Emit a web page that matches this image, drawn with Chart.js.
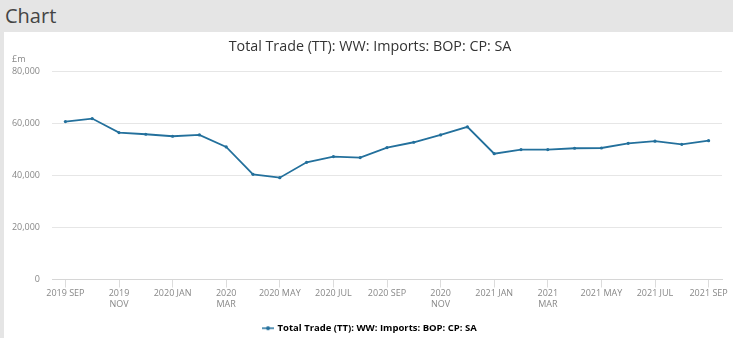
<!DOCTYPE html>
<html>
<head>
<meta charset="utf-8">
<script src="https://cdn.jsdelivr.net/npm/chart.js@4/dist/chart.umd.min.js"></script>
<style>
    body { margin: 0; width: 733px; height: 338px; overflow: hidden; background: #e5e5e5; font-family: "Open Sans", sans-serif; }
    #heading { position: absolute; left: 5px; top: 2px; font-size: 20px; color: #444; }
    #panel { position: absolute; left: 4px; top: 32px; width: 735px; height: 312px; background: #fff; }
    #unit { position: absolute; left: 8px; top: 20px; font-size: 9px; color: #888; }
</style>
</head>
<body>
<div id="heading">Chart</div>
<div id="panel">
    <span id="unit">£m</span>
    <canvas id="trade_chart" width="732" height="312"></canvas>
</div>
<script>
"use strict";

// monthly imports, £m
const months = [
    '2019 SEP', '2019 OCT', '2019 NOV', '2019 DEC',
    '2020 JAN', '2020 FEB', '2020 MAR', '2020 APR', '2020 MAY', '2020 JUN',
    '2020 JUL', '2020 AUG', '2020 SEP', '2020 OCT', '2020 NOV', '2020 DEC',
    '2021 JAN', '2021 FEB', '2021 MAR', '2021 APR', '2021 MAY', '2021 JUN',
    '2021 JUL', '2021 AUG', '2021 SEP'
];
const imports = [
    60650, 61800, 56400, 55770,
    55000, 55500, 50900, 40400, 39100, 45000,
    47200, 46800, 50650, 52700, 55500, 58600,
    48300, 49900, 49900, 50400, 50500, 52300,
    53100, 51900, 53300
];
// axis labels, every second month (some wrap onto two lines)
const tickLabels = [
    '2019 SEP', '', ['2019', 'NOV'], '',
    '2020 JAN', '', ['2020', 'MAR'], '', '2020 MAY', '',
    '2020 JUL', '', '2020 SEP', '', ['2020', 'NOV'], '',
    '2021 JAN', '', ['2021', 'MAR'], '', '2021 MAY', '',
    '2021 JUL', '', '2021 SEP'
];
const yTicks = [0, 20000, 40000, 60000, 80000];

const seriesName = 'Total Trade (TT): WW: Imports: BOP: CP: SA';
const lineColor = '#23709c';

// legend marker: short line with a dot
const marker = document.createElement('canvas');
marker.width = 12;
marker.height = 6;
const mctx = marker.getContext('2d');
mctx.strokeStyle = lineColor;
mctx.lineWidth = 1.5;
mctx.beginPath();
mctx.moveTo(0, 3);
mctx.lineTo(12, 3);
mctx.stroke();
mctx.fillStyle = lineColor;
mctx.beginPath();
mctx.arc(6, 3, 2, 0, Math.PI * 2);
mctx.fill();

const ctx = document.getElementById('trade_chart');

new Chart(ctx, {
    type: 'line',
    data: {
        labels: months,
        datasets: [{
            label: seriesName,
            data: imports,
            borderColor: lineColor,
            backgroundColor: lineColor,
            borderWidth: 1.8,
            pointRadius: 1.6,
            pointBorderWidth: 0,
            pointHoverRadius: 3,
            tension: 0,
        }]
    },
    options: {
        responsive: false,
        animation: false,
        layout: {
            padding: { left: 0, right: 0, top: 0, bottom: 1 }
        },
        scales: {
            x: {
                offset: true,
                grid: {
                    drawOnChartArea: false,
                    offset: false,
                    tickLength: 8,
                    color: (c) => (c.index % 2 === 0 ? '#dcdcdc' : 'rgba(0,0,0,0)'),
                },
                border: { color: '#d6d6d6' },
                ticks: {
                    autoSkip: false,
                    maxRotation: 0,
                    padding: 1,
                    color: '#888',
                    font: { family: 'Open Sans', size: 9 },
                    callback: (v, i) => tickLabels[i],
                },
                afterFit: (scale) => {
                    scale.height = 41;
                    // keep a right margin on the plot only, title and legend stay centred on the canvas
                    scale.paddingRight = 14;
                },
            },
            y: {
                min: 0,
                max: 80000,
                afterBuildTicks: (scale) => {
                    scale.ticks = yTicks.map(v => ({ value: v }));
                },
                grid: { color: '#e6e6e6', drawTicks: false },
                border: { display: false },
                ticks: {
                    padding: 12,
                    color: '#888',
                    font: { family: 'Open Sans', size: 9 },
                    callback: (v) => v.toLocaleString('en-GB'),
                },
                afterFit: (scale) => { scale.width = 48; },
            }
        },
        plugins: {
            title: {
                display: true,
                text: seriesName,
                color: '#333',
                font: { family: 'Open Sans', size: 14.3, weight: 'normal' },
                padding: { top: 6, bottom: 16 },
            },
            legend: {
                position: 'bottom',
                labels: {
                    color: '#222',
                    font: { family: 'Open Sans', size: 9.5, weight: 'bold' },
                    usePointStyle: true,
                    padding: 3,
                    generateLabels: (chart) => [{
                        text: seriesName,
                        pointStyle: marker,
                        fillStyle: lineColor,
                        strokeStyle: lineColor,
                        lineWidth: 0,
                        datasetIndex: 0,
                    }],
                },
            },
            tooltip: { enabled: false },
        },
    },
});
</script>
</body>
</html>
